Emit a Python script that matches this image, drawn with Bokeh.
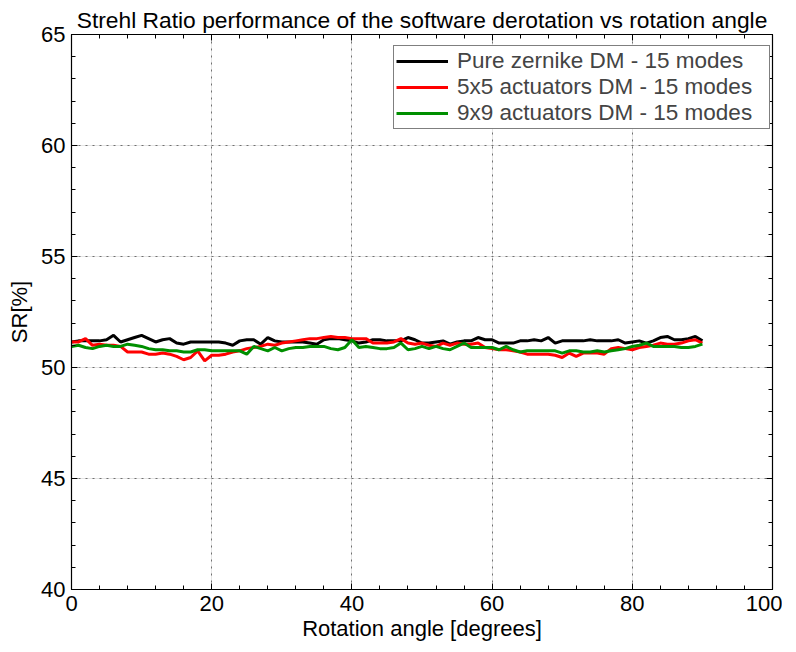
from bokeh.plotting import figure
from bokeh.models import (LinearAxis, Range1d, SingleIntervalTicker, Legend, LegendItem, Title,
                          Grid, CustomJSTickFormatter)
from bokeh.embed import file_html
from bokeh.resources import INLINE

angles = list(range(0, 91))

pure_zernike = [51.15, 51.2, 51.2, 51.2, 51.2, 51.25, 51.45, 51.15, 51.25, 51.35,
                51.45, 51.3, 51.15, 51.25, 51.3, 51.1, 51.05, 51.15, 51.15, 51.15,
                51.15, 51.15, 51.1, 51.0, 51.2, 51.25, 51.25, 51.05, 51.35, 51.2,
                51.15, 51.15, 51.15, 51.15, 51.1, 51.05, 51.25, 51.3, 51.3, 51.25,
                51.2, 51.1, 51.15, 51.25, 51.25, 51.2, 51.2, 51.2, 51.35, 51.25,
                51.1, 51.1, 51.15, 51.2, 51.05, 51.15, 51.2, 51.2, 51.35, 51.25,
                51.25, 51.1, 51.1, 51.1, 51.2, 51.2, 51.25, 51.2, 51.35, 51.1,
                51.2, 51.2, 51.2, 51.2, 51.25, 51.2, 51.2, 51.2, 51.25, 51.1,
                51.15, 51.2, 51.1, 51.2, 51.35, 51.4, 51.25, 51.25, 51.3, 51.4,
                51.2]

act5x5 = [51.15, 51.15, 51.3, 51.0, 51.05, 51.0, 51.0, 50.95, 50.7, 50.7,
          50.7, 50.6, 50.6, 50.65, 50.6, 50.5, 50.35, 50.45, 50.75, 50.3,
          50.55, 50.55, 50.6, 50.7, 50.75, 50.85, 50.9, 50.95, 51.05, 51.0,
          51.1, 51.15, 51.2, 51.25, 51.3, 51.3, 51.35, 51.4, 51.35, 51.35,
          51.3, 51.3, 51.3, 51.1, 51.1, 51.1, 51.15, 51.3, 51.1, 51.05,
          51.1, 51.0, 50.95, 51.1, 51.0, 51.1, 51.05, 51.05, 51.1, 50.9,
          50.85, 50.8, 50.8, 50.75, 50.7, 50.6, 50.6, 50.6, 50.6, 50.55,
          50.45, 50.65, 50.5, 50.65, 50.65, 50.65, 50.6, 50.85, 50.9, 50.85,
          50.8, 50.9, 50.95, 51.0, 51.1, 51.05, 51.05, 51.1, 51.2, 51.25,
          51.1]

act9x9 = [50.95, 51.0, 50.9, 50.85, 50.95, 51.0, 50.95, 50.95, 51.05, 51.0,
          50.95, 50.85, 50.8, 50.8, 50.75, 50.75, 50.7, 50.7, 50.8, 50.8,
          50.75, 50.75, 50.75, 50.75, 50.75, 50.6, 50.95, 50.85, 50.75, 50.9,
          50.75, 50.85, 50.9, 50.9, 50.95, 50.95, 50.95, 50.85, 50.8, 50.9,
          51.25, 50.9, 50.95, 50.9, 50.85, 50.85, 50.9, 51.1, 50.8, 50.85,
          50.95, 50.85, 50.95, 50.85, 50.8, 50.95, 51.1, 50.9, 50.9, 50.9,
          50.9, 50.8, 50.95, 50.8, 50.7, 50.75, 50.75, 50.75, 50.75, 50.75,
          50.65, 50.75, 50.75, 50.7, 50.7, 50.75, 50.7, 50.75, 50.8, 50.85,
          50.95, 51.0, 51.1, 50.95, 50.95, 50.95, 50.95, 50.9, 50.9, 50.95,
          51.05]

series_labels = ["Pure zernike DM - 15 modes", "5x5 actuators DM - 15 modes", "9x9 actuators DM - 15 modes"]
series_colors = ["#000000", "#ff0000", "#008f00"]
title_text = "Strehl Ratio performance of the software derotation vs rotation angle"

FONT = "Liberation Sans"
FS = "22px"

p = figure(frame_width=701, frame_height=555, output_backend="svg", toolbar_location=None,
           x_range=Range1d(0, 100), y_range=Range1d(40, 65),
           min_border_left=71, min_border_right=10, min_border_top=34, min_border_bottom=55,
           x_axis_location=None, y_axis_location=None)
p.background_fill_color = "white"
p.border_fill_color = "white"
p.outline_line_color = "black"
p.outline_line_width = 1

xt = SingleIntervalTicker(interval=20, num_minor_ticks=5)
yt = SingleIntervalTicker(interval=5, num_minor_ticks=5)

def mk_axis(ticker, labels):
    ax = LinearAxis(ticker=ticker)
    ax.axis_line_color = "black"
    ax.axis_line_width = 1.2
    ax.major_tick_in = 6
    ax.major_tick_out = 0
    ax.minor_tick_in = 4
    ax.minor_tick_out = 0
    ax.major_tick_line_color = "black"
    ax.minor_tick_line_color = "black"
    if labels:
        ax.major_label_text_font = FONT
        ax.major_label_text_font_size = FS
        ax.major_label_text_color = "black"
        ax.major_label_standoff = 6
        ax.axis_label_text_font = FONT
        ax.axis_label_text_font_size = FS
        ax.axis_label_text_font_style = "normal"
        ax.axis_label_text_color = "black"
        ax.axis_label_standoff = 2
    else:
        ax.formatter = CustomJSTickFormatter(code="return '';")
        ax.major_label_standoff = 0
    return ax

xb = mk_axis(xt, True)
xb.axis_label = "Rotation angle [degrees]"
yl = mk_axis(yt, True)
yl.axis_label = "SR[%]"
yl.axis_label_standoff = 6
xa = mk_axis(xt, False)
yr = mk_axis(yt, False)
p.add_layout(xb, "below")
p.add_layout(yl, "left")
p.add_layout(xa, "above")
p.add_layout(yr, "right")

gx = Grid(dimension=0, ticker=xt)
gy = Grid(dimension=1, ticker=yt)
for g in (gx, gy):
    g.grid_line_color = "#707070"
    g.grid_line_dash = "2 5"
    g.grid_line_width = 1
    p.add_layout(g)

p.title = Title(text=title_text, align="center", text_font=FONT, text_font_size="22.8px",
                text_font_style="normal", text_color="black", standoff=4)

renderers = []
for ys, c in zip([pure_zernike, act5x5, act9x9], series_colors):
    r = p.line(angles, ys, line_color=c, line_width=3)
    renderers.append(r)

legend = Legend(items=[LegendItem(label=l, renderers=[r]) for l, r in zip(series_labels, renderers)],
                location=(322, 460), margin=0)
legend.label_text_font = FONT
legend.label_text_font_size = "22.5px"
legend.glyph_width = 52
legend.glyph_height = 24
legend.label_height = 24
legend.label_width = 310
legend.label_standoff = 9
legend.padding = 2
legend.spacing = 0
legend.border_line_color = "black"
legend.border_line_width = 1.2
legend.background_fill_color = "white"
legend.background_fill_alpha = 1
p.add_layout(legend, "center")

open("out.html", "w").write(file_html(p, INLINE))
